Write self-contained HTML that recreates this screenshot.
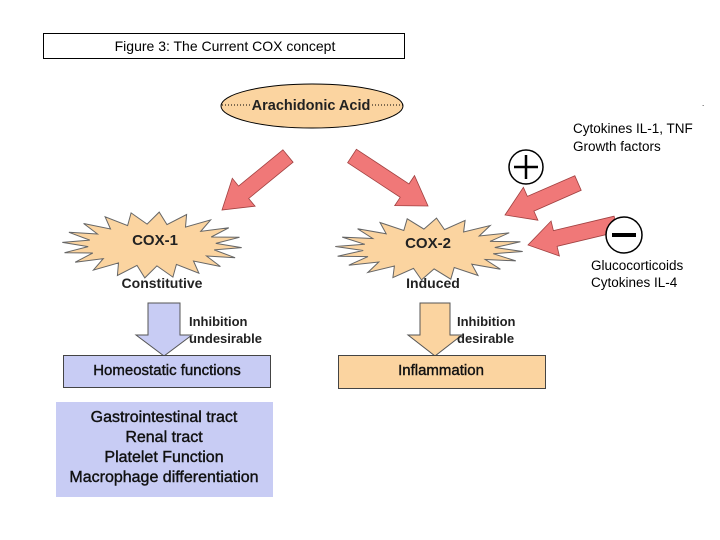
<!DOCTYPE html>
<html><head><meta charset="utf-8"><style>
body{margin:0;background:#fff}
svg{display:block}
text{font-family:"Liberation Sans",Arial,sans-serif}
</style></head><body>
<svg id="s" width="720" height="540" viewBox="0 0 720 540" xmlns="http://www.w3.org/2000/svg">
<rect x="43.5" y="33.5" width="361" height="25" fill="#fff" stroke="#000"/>
<text x="225" y="51" font-size="14" text-anchor="middle">Figure 3: The Current COX concept</text>
<ellipse cx="312" cy="106" rx="91" ry="22" fill="#fbd4a0" stroke="#000"/>
<line x1="222" y1="105" x2="250" y2="105" stroke="#000" stroke-dasharray="1,2"/>
<line x1="372" y1="105" x2="403" y2="105" stroke="#000" stroke-dasharray="1,2"/>
<text x="311" y="110" font-size="14.5" text-anchor="middle" font-weight="bold" fill="#222">Arachidonic Acid</text>
<text x="702" y="106" font-size="8">.</text>
<g id="arrows" fill="#f07878" stroke="#a04040" stroke-width="0.8"></g>
<circle cx="526" cy="167" r="17" fill="#fff" stroke="#000" stroke-width="1.5"/>
<path d="M526 155v24M514 167h24" stroke="#000" stroke-width="2.5"/>
<circle cx="624" cy="235" r="18" fill="#fff" stroke="#000" stroke-width="1.5"/>
<path d="M612 235h24" stroke="#000" stroke-width="4"/>
<g font-size="13.5">
<text x="573" y="133">Cytokines IL-1, TNF</text>
<text x="573" y="151">Growth factors</text>
<text x="591" y="270">Glucocorticoids</text>
<text x="591" y="287">Cytokines IL-4</text>
</g>
<polygon id="b1" fill="#fbd4a0" stroke="#666"/>
<polygon id="b2" fill="#fbd4a0" stroke="#666"/>
<text x="155" y="245" font-size="15" text-anchor="middle" font-weight="bold" fill="#222">COX-1</text>
<text x="428" y="248" font-size="15" text-anchor="middle" font-weight="bold" fill="#222">COX-2</text>
<text x="162" y="288" font-size="14" text-anchor="middle" font-weight="bold" fill="#222">Constitutive</text>
<text x="433" y="288" font-size="14" text-anchor="middle" font-weight="bold" fill="#222">Induced</text>
<polygon points="148,303 180,303 180,335 192,335 164,356 136,335 148,335" fill="#c8ccf4" stroke="#555"/>
<polygon points="420,303 450,303 450,335 462,335 435,356 408,335 420,335" fill="#fbd4a0" stroke="#555"/>
<text x="189" y="326" font-size="13" font-weight="bold" fill="#222">Inhibition</text>
<text x="189" y="343" font-size="13" font-weight="bold" fill="#222">undesirable</text>
<text x="457" y="326" font-size="13" font-weight="bold" fill="#222">Inhibition</text>
<text x="457" y="343" font-size="13" font-weight="bold" fill="#222">desirable</text>
<rect x="63.5" y="355.5" width="207" height="32" fill="#c8ccf4" stroke="#444"/>
<text x="167" y="375" font-size="15" text-anchor="middle" fill="#111" stroke="#111" stroke-width="0.4">Homeostatic functions</text>
<rect x="338.5" y="355.5" width="207" height="33" fill="#fbd4a0" stroke="#444"/>
<text x="441" y="375" font-size="15" text-anchor="middle" fill="#111" stroke="#111" stroke-width="0.4">Inflammation</text>
<rect x="56" y="402" width="217" height="95" fill="#c8ccf4"/>
<g font-size="16" text-anchor="middle" fill="#111" stroke="#111" stroke-width="0.4">
<text x="164" y="422">Gastrointestinal tract</text>
<text x="164" y="442">Renal tract</text>
<text x="164" y="462">Platelet Function</text>
<text x="164" y="482">Macrophage differentiation</text>
</g>
</svg>
<script>
function burst(id,cx,cy,rx,ry,irx,iry,n){var p=[];for(var i=0;i<2*n;i++){var a=Math.PI*i/n+0.08;var o=i%2==0;p.push((cx+(o?rx:irx)*Math.cos(a)).toFixed(1)+","+(cy+(o?ry:iry)*Math.sin(a)).toFixed(1));}document.getElementById(id).setAttribute("points",p.join(" "));}
burst("b1",152,245,90,33,64,21,20);
burst("b2",429,249,94,31,66,20,20);
function arrow(x1,y1,x2,y2,w,hw,hl){var dx=x2-x1,dy=y2-y1,L=Math.hypot(dx,dy),ux=dx/L,uy=dy/L,nx=-uy,ny=ux;var bx=x2-ux*hl,by=y2-uy*hl;var pts=[[x1+nx*w,y1+ny*w],[bx+nx*w,by+ny*w],[bx+nx*hw,by+ny*hw],[x2,y2],[bx-nx*hw,by-ny*hw],[bx-nx*w,by-ny*w],[x1-nx*w,y1-ny*w]];var e=document.createElementNS("http://www.w3.org/2000/svg","polygon");e.setAttribute("points",pts.map(function(q){return q[0].toFixed(1)+","+q[1].toFixed(1)}).join(" "));document.getElementById("arrows").appendChild(e);}
arrow(288,156,222,210,8,18,28);
arrow(352,156,428,206,8,18,28);
arrow(578,183,505,215,8,18,28);
arrow(616,224,528,245,8,18,28);
</script>
</body></html>
